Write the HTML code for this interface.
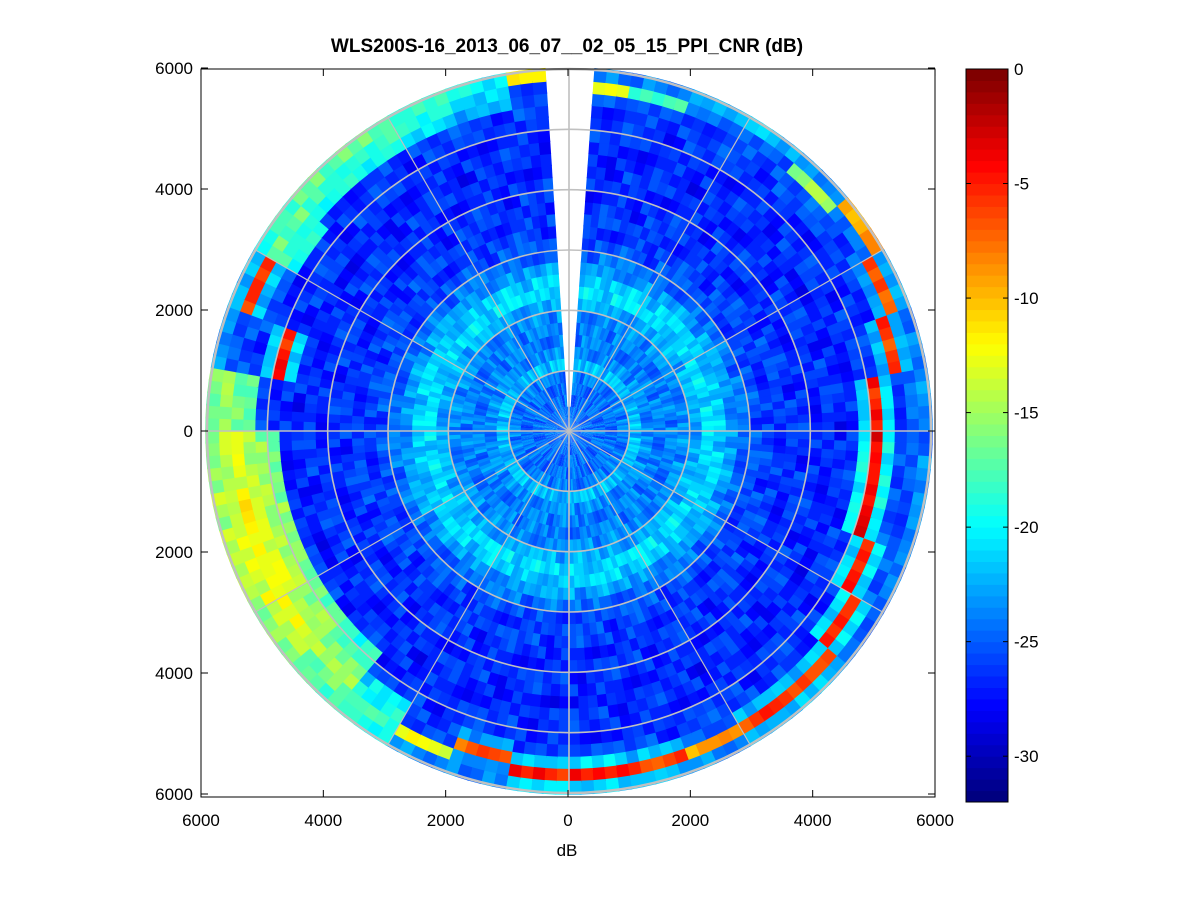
<!DOCTYPE html>
<html><head><meta charset="utf-8"><style>
body{margin:0;background:#fff;font-family:"Liberation Sans",sans-serif}
svg text{font-family:"Liberation Sans",sans-serif}
</style></head><body>
<svg id="fig" width="1201" height="901" viewBox="0 0 1201 901" xmlns="http://www.w3.org/2000/svg">
<rect x="0" y="0" width="1201" height="901" fill="#fff"/>
<text x="567" y="52" text-anchor="middle" font-size="19" font-weight="bold">WLS200S-16_2013_06_07__02_05_15_PPI_CNR (dB)</text>
<g id="cells"></g>
<g id="grid"></g>
<rect x="201" y="69" width="734" height="728" fill="none" stroke="#000" stroke-width="1"/>
<g id="axes"></g>
<text x="567" y="856" text-anchor="middle" font-size="17">dB</text>
<g id="cbar"></g>
</svg>
<script>
// ---- data ----
const gateSize = 200; // m
const baseProfile = [-24.5,-24.5,-24.5,-24.5,-24,-22,-23.5,-24,-24,-23.5,-22.5,-21,-21.5,-23,-24.5,-25.5,-26,-26,-26.5,-26.5,-26.5,-26.5,-27,-26.5,-26.5,-26.5,-26,-25.5,-25,-24];
const sectorPeakGate = [28,28,29,29,28,29,28,27,25,25,25,26,27,28,28,28,28,28,28,27,28,28,27,27,27,27,27,28,24,28,28,29,29,29,29,29];
const sectorPeakVal = [-12,-18,-22,-22,-15,-9,-7,-6,-5,-4,-4,-5,-5,-6,-6,-9,-6,-5,-5,-7,-13,-18,-15,-13,-12,-12,-13,-15,-5,-6,-17,-17,-17,-18,-20,-12];
const sectorWidth = [1,1,1,1,1,1,1,1,1,1,1,1,1,1,1,1,1,1,1,1,1,2,3,3,3,3,3,2,1,1,2,2,2,2,2,1];
const texture = [0.8,-1.5,2.1,-0.4,-2.6,1.2,0.3,-1.1,2.8,-2.0,0.5,1.7,-0.8,-2.9,1.0,0.0,2.3,-1.7,-0.3,1.4,-2.3,0.9,-1.2,2.5,-0.6,1.9,-2.4,0.2,-1.0,1.6,-0.1];
const xTickVals = [-6000,-4000,-2000,0,2000,4000,6000];
const yTickVals = [6000,4000,2000,0,-2000,-4000,-6000];
const cbTickVals = [0,-5,-10,-15,-20,-25,-30];
const cLim = [-32,0];
// ---- scales ----
const NS="http://www.w3.org/2000/svg";
const cx=569, cy=431, rPx=362/6000;
const xScale=v=>568+v*0.06117, yScale=v=>431-v*0.0605;
function jet(v){
  let t=(v-cLim[0])/(cLim[1]-cLim[0]); t=Math.max(0,Math.min(1,t));
  t=Math.min(63,Math.floor(t*64))/63;
  const f=x=>Math.max(0,Math.min(1,x));
  const r=f(Math.min(4*t-1.5,-4*t+4.5)),g=f(Math.min(4*t-0.5,-4*t+3.5)),b=f(Math.min(4*t+0.5,-4*t+2.5));
  return `rgb(${Math.round(r*255)},${Math.round(g*255)},${Math.round(b*255)})`;
}
function pt(r,deg){const a=deg*Math.PI/180;return [cx+r*Math.sin(a),cy-r*Math.cos(a)];}
function cellValue(a,g,azDeg){
  const s=Math.floor(azDeg/10)%36;
  let v=baseProfile[g]+0.6*texture[(a*13+g*7)%texture.length];
  const d=Math.abs(g-sectorPeakGate[s]);
  const broad=sectorWidth[s]>1;
  if(d<=sectorWidth[s]){const fv=sectorPeakVal[s]-d*(broad?1.3:16)+texture[(a*5+g)%texture.length]*0.5;v=Math.max(v,fv);}
  return v;
}
const cells=document.getElementById('cells');
const nAz=180, nG=baseProfile.length, dAz=360/nAz;
for(let a=0;a<nAz;a++){
  const a0=a*dAz,a1=a0+dAz,mid=a0+dAz/2;
  for(let g=0;g<nG;g++){
    if((mid<4||mid>356)&&g>=2) continue;
    const r0=g*gateSize*rPx,r1=(g+1)*gateSize*rPx*1.005;
    const p1=pt(r0,a0),p2=pt(r1,a0),p3=pt(r1,a1+0.3),p4=pt(r0,a1+0.3);
    const p=document.createElementNS(NS,'path');
    p.setAttribute('d',`M${p1[0].toFixed(1)},${p1[1].toFixed(1)}L${p2[0].toFixed(1)},${p2[1].toFixed(1)}L${p3[0].toFixed(1)},${p3[1].toFixed(1)}L${p4[0].toFixed(1)},${p4[1].toFixed(1)}Z`);
    p.setAttribute('fill',jet(cellValue(a,g,mid)));
    
    
    cells.appendChild(p);
  }
}
// grid
const grid=document.getElementById('grid');
for(let k=1;k<=6;k++){
  const c=document.createElementNS(NS,'circle');
  c.setAttribute('cx',cx);c.setAttribute('cy',cy);c.setAttribute('r',k*1000*rPx);
  c.setAttribute('fill','none');c.setAttribute('stroke','#c0c0c0');c.setAttribute('stroke-width',k==6?2.5:1.6);
  
  
  grid.appendChild(c);
}
for(let d=0;d<360;d+=30){
  const e=pt(6000*rPx,d);
  const l=document.createElementNS(NS,'line');
  l.setAttribute('x1',cx);l.setAttribute('y1',cy);l.setAttribute('x2',e[0]);l.setAttribute('y2',e[1]);
  l.setAttribute('stroke','#c0c0c0');l.setAttribute('stroke-width',d%90==0?1.6:1.2);
  
  
  grid.appendChild(l);
}
// axes
const axes=document.getElementById('axes');
function add(tag,attrs,txt,name){const e=document.createElementNS(NS,tag);for(const k in attrs)e.setAttribute(k,attrs[k]);if(txt!=null)e.textContent=txt;
return e;}
xTickVals.forEach(v=>{const x=xScale(v);
  axes.appendChild(add('line',{x1:x,y1:797,x2:x,y2:790,stroke:'#000'},null,'x-tick'));
  axes.appendChild(add('line',{x1:x,y1:69,x2:x,y2:76,stroke:'#000'},null,'x-tick-top'));
  axes.appendChild(add('text',{x:x,y:826,'text-anchor':'middle','font-size':17},String(Math.abs(v)),'x-tick-label'));
});
yTickVals.forEach(v=>{const y=yScale(v);
  axes.appendChild(add('line',{x1:201,y1:y,x2:208,y2:y,stroke:'#000'},null,'y-tick'));
  axes.appendChild(add('line',{x1:935,y1:y,x2:928,y2:y,stroke:'#000'},null,'y-tick-right'));
  axes.appendChild(add('text',{x:193,y:y+6,'text-anchor':'end','font-size':17},String(Math.abs(v)),'y-tick-label'));
});
// colorbar
const cb=document.getElementById('cbar');
const cbTop=69,cbBot=802,cbL=966,cbR=1008;
const cbY=v=>cbBot-(v-cLim[0])/(cLim[1]-cLim[0])*(cbBot-cbTop);
for(let i=0;i<64;i++){
  const v0=cLim[0]+i*(cLim[1]-cLim[0])/64,v1=v0+(cLim[1]-cLim[0])/64;
  cb.appendChild(add('rect',{x:cbL,y:cbY(v1),width:cbR-cbL,height:cbY(v0)-cbY(v1)+0.5,fill:jet((v0+v1)/2)},null,'colorbar-swatch'));
}
cb.appendChild(add('rect',{x:cbL,y:cbTop,width:cbR-cbL,height:cbBot-cbTop,fill:'none',stroke:'#000'},null,'colorbar-frame'));
cbTickVals.forEach(v=>{const y=cbY(v);
  cb.appendChild(add('line',{x1:cbL,y1:y,x2:cbL+5,y2:y,stroke:'#000'},null,'colorbar-tick'));
  cb.appendChild(add('line',{x1:cbR,y1:y,x2:cbR-5,y2:y,stroke:'#000'},null,'colorbar-tick'));
  cb.appendChild(add('text',{x:1014,y:y+6,'font-size':17},String(v),'colorbar-tick-label'));
});
</script>
</body></html>
